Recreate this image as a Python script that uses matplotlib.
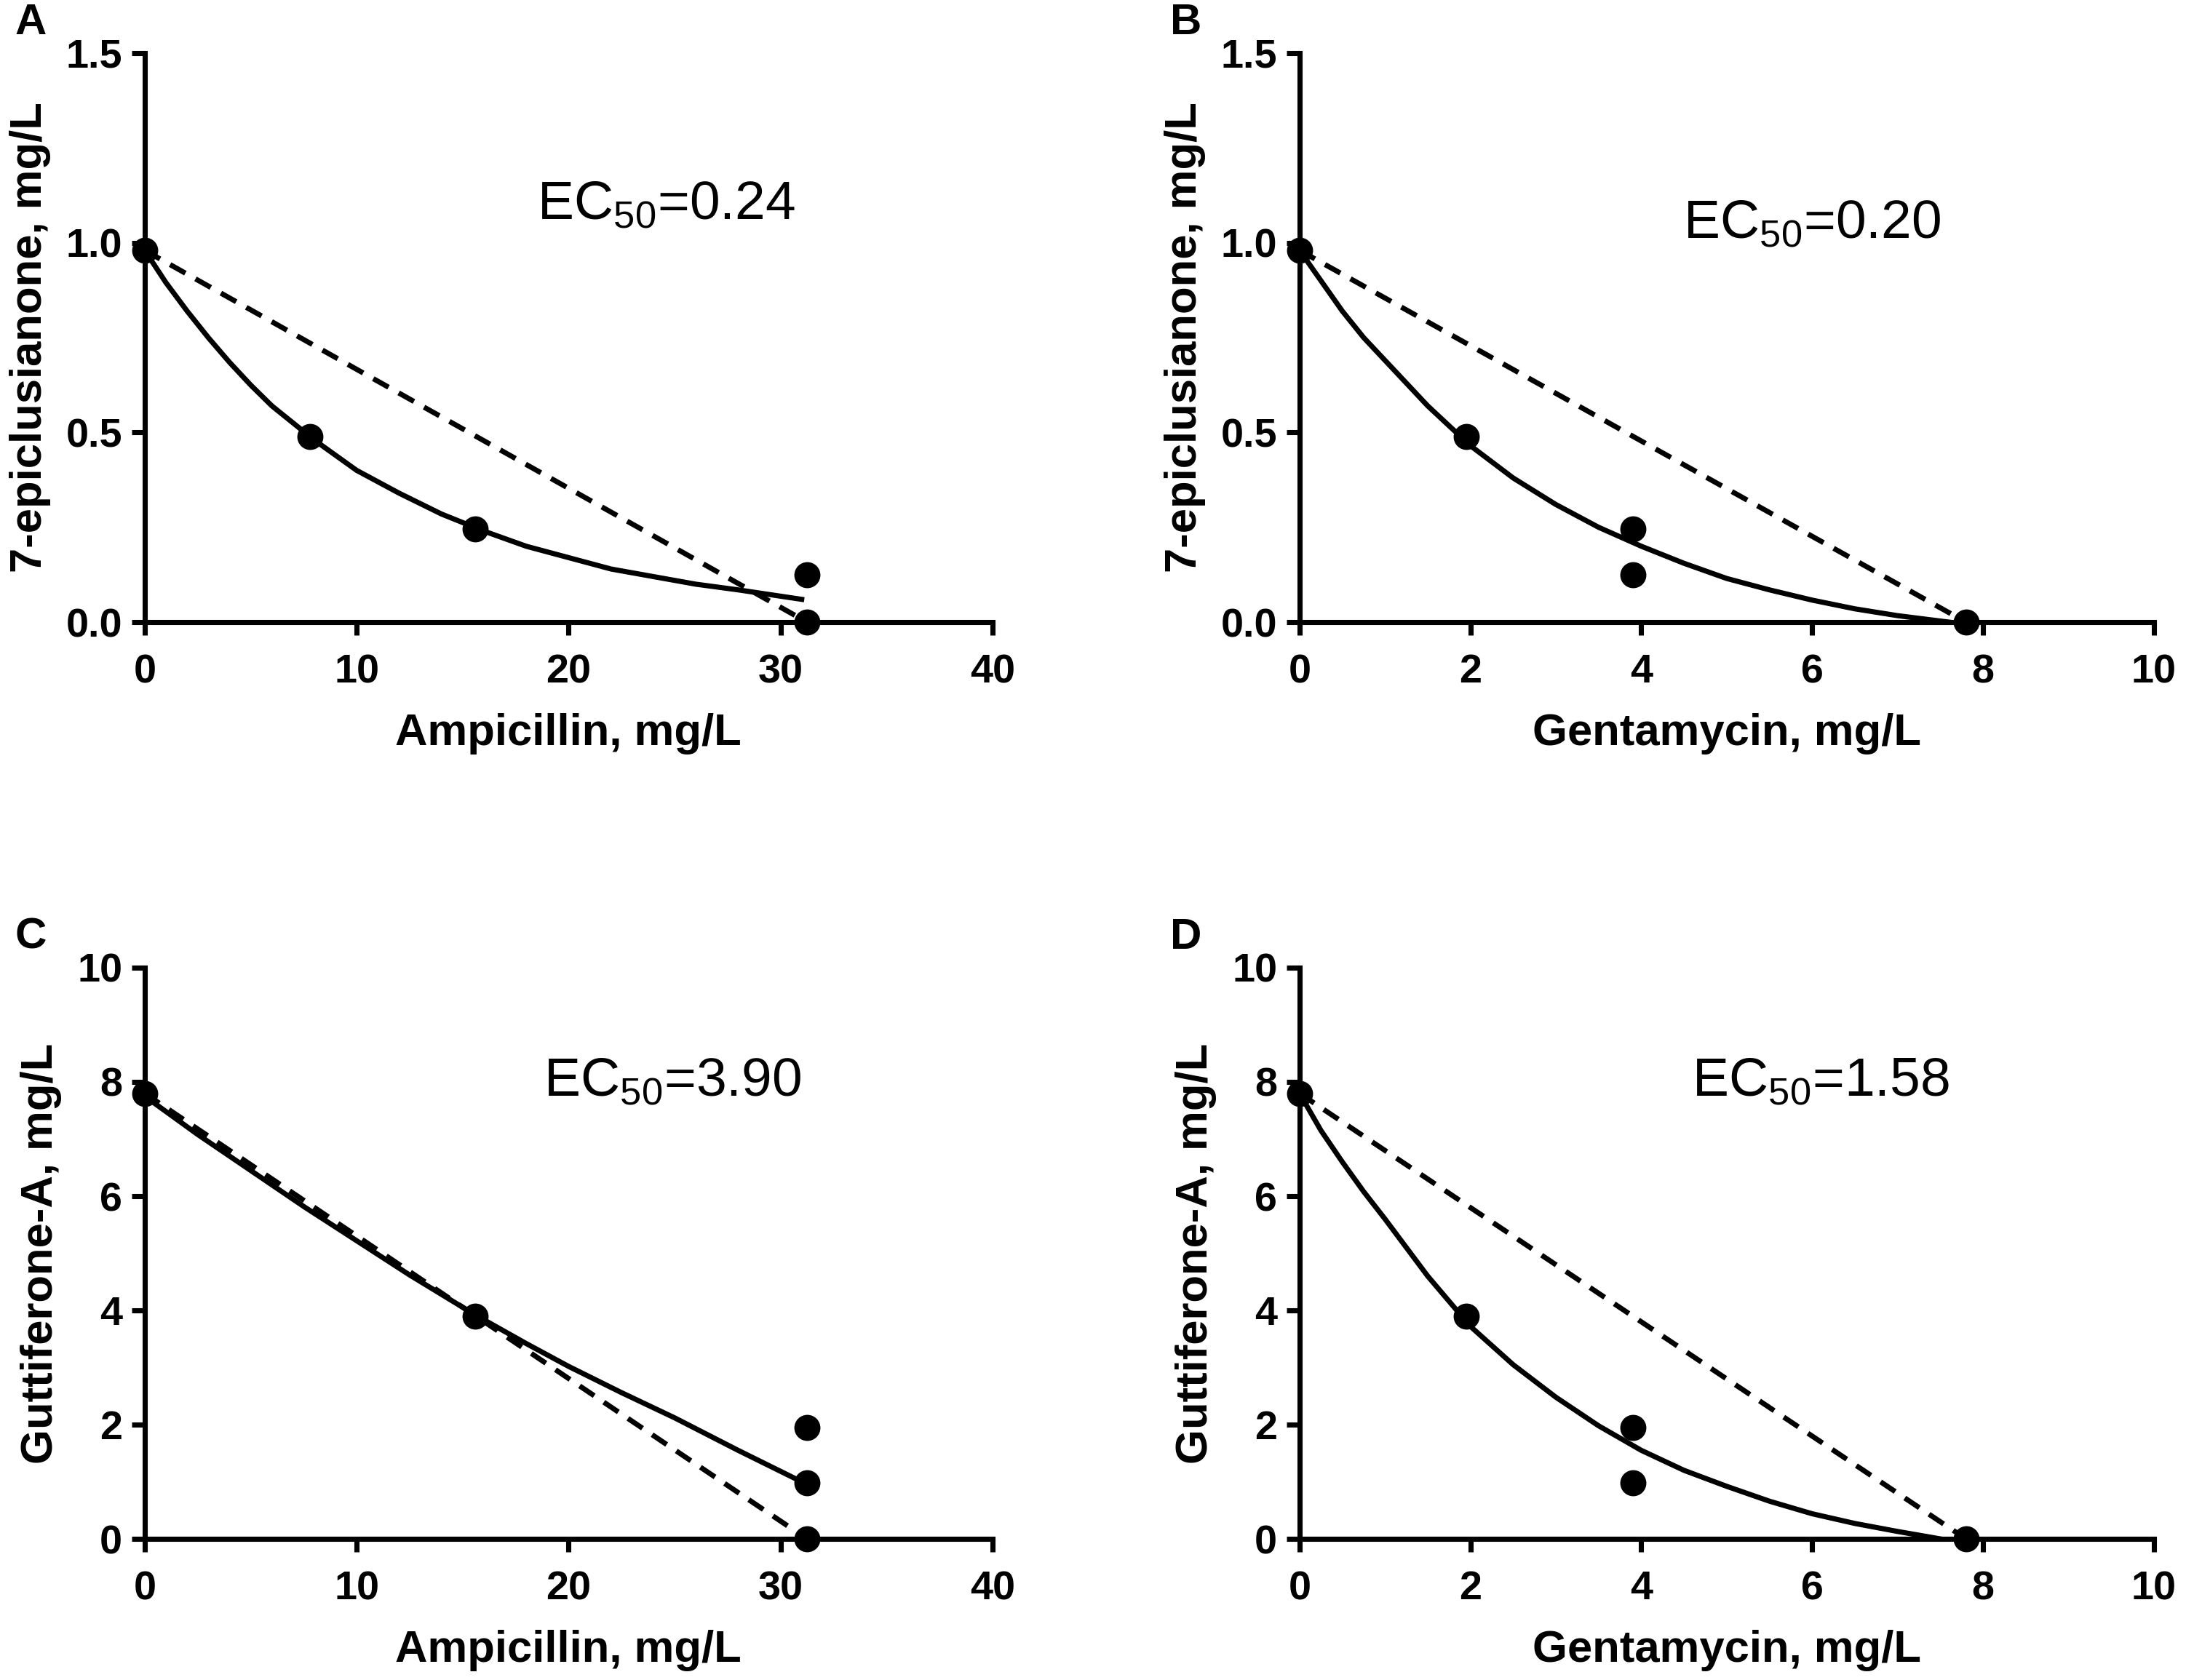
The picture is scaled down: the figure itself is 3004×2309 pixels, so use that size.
import matplotlib
matplotlib.use("Agg")
import matplotlib.pyplot as plt

plt.rcParams['font.family'] = ['Liberation Sans', 'DejaVu Sans']
plt.rcParams['mathtext.fontset'] = 'custom'
plt.rcParams['mathtext.rm'] = 'Liberation Sans'

# ---- data ----
# A: ampicillin vs 7-epiclusianone
a_pts_x = [0, 7.8, 15.6, 31.25, 31.25]
a_pts_y = [0.98, 0.49, 0.245, 0.125, 0.0]
a_fit_x = [0, 1, 2, 3, 4, 5, 6, 7, 8, 9, 10, 12, 14, 16, 18, 20, 22, 24, 26, 28, 31]
a_fit_y = [0.98, 0.895, 0.82, 0.75, 0.685, 0.625, 0.57, 0.525, 0.48, 0.44, 0.40, 0.34,
           0.285, 0.24, 0.20, 0.17, 0.14, 0.12, 0.10, 0.085, 0.06]
a_add_x = [0, 31.25]
a_add_y = [0.98, 0.0]

# B: gentamycin vs 7-epiclusianone
b_pts_x = [0, 1.95, 3.9, 3.9, 7.8]
b_pts_y = [0.98, 0.49, 0.245, 0.125, 0.0]
b_fit_x = [0, 0.25, 0.5, 0.75, 1, 1.5, 2, 2.5, 3, 3.5, 4, 4.5, 5, 5.5, 6, 6.5, 7, 7.6]
b_fit_y = [0.98, 0.90, 0.82, 0.75, 0.69, 0.57, 0.465, 0.38, 0.31, 0.25, 0.20, 0.155,
           0.115, 0.085, 0.058, 0.035, 0.017, 0.0]
b_add_x = [0, 7.8]
b_add_y = [0.98, 0.0]

# C: ampicillin vs guttiferone-A
c_pts_x = [0, 15.6, 31.25, 31.25, 31.25]
c_pts_y = [7.8, 3.9, 1.95, 0.98, 0.0]
c_fit_x = [0, 2.5, 5, 7.5, 10, 12.5, 15.6, 18, 20, 22.5, 25, 28, 31]
c_fit_y = [7.75, 7.08, 6.45, 5.82, 5.22, 4.62, 3.92, 3.42, 3.02, 2.56, 2.12, 1.55, 1.0]
c_add_x = [0, 31.25]
c_add_y = [7.8, 0.0]

# D: gentamycin vs guttiferone-A
d_pts_x = [0, 1.95, 3.9, 3.9, 7.8]
d_pts_y = [7.8, 3.9, 1.95, 0.98, 0.0]
d_fit_x = [0, 0.25, 0.5, 0.75, 1, 1.5, 2, 2.5, 3, 3.5, 4, 4.5, 5, 5.5, 6, 6.5, 7, 7.5]
d_fit_y = [7.8, 7.15, 6.6, 6.08, 5.6, 4.6, 3.72, 3.05, 2.48, 1.98, 1.55, 1.2, 0.92,
           0.66, 0.44, 0.27, 0.13, 0.0]
d_add_x = [0, 7.8]
d_add_y = [7.8, 0.0]

ec50 = ["0.24", "0.20", "3.90", "1.58"]
letters = ["A", "B", "C", "D"]
xlabels = ["Ampicillin, mg/L", "Gentamycin, mg/L", "Ampicillin, mg/L", "Gentamycin, mg/L"]
ylabels = ["7-epiclusianone, mg/L", "7-epiclusianone, mg/L", "Guttiferone-A, mg/L", "Guttiferone-A, mg/L"]

fig = plt.figure(figsize=(3004 / 300, 2309 / 300), dpi=300)
boxes = [[0.0662, 0.6297, 0.3878, 0.3387],
         [0.5945, 0.6297, 0.3908, 0.3387],
         [0.0662, 0.0840, 0.3878, 0.3400],
         [0.5945, 0.0840, 0.3908, 0.3400]]

panels = [
    (a_pts_x, a_pts_y, a_fit_x, a_fit_y, a_add_x, a_add_y, 40, 10, 1.5, 0.5, (24.6, 1.10)),
    (b_pts_x, b_pts_y, b_fit_x, b_fit_y, b_add_x, b_add_y, 10, 2, 1.5, 0.5, (6.0, 1.05)),
    (c_pts_x, c_pts_y, c_fit_x, c_fit_y, c_add_x, c_add_y, 40, 10, 10, 2, (24.9, 8.0)),
    (d_pts_x, d_pts_y, d_fit_x, d_fit_y, d_add_x, d_add_y, 10, 2, 10, 2, (6.1, 8.0)),
]

lw = 1.7
for i, (px, py, fx, fy, ax_, ay_, xmax, xstep, ymax, ystep, txt) in enumerate(panels):
    ax = fig.add_axes(boxes[i])
    ax.plot(fx, fy, color='black', lw=lw, solid_joinstyle='round', clip_on=False)
    ax.plot(ax_, ay_, color='black', lw=lw, dashes=(3.4, 2.25), clip_on=False)
    ax.plot(px, py, 'o', color='black', ms=7.6, clip_on=False, zorder=5)

    ax.set_xlim(0, xmax)
    ax.set_ylim(0, ymax)
    ax.set_xticks([xstep * k for k in range(int(round(xmax / xstep)) + 1)])
    yt = [ystep * k for k in range(int(round(ymax / ystep)) + 1)]
    ax.set_yticks(yt)
    if ymax < 5:
        ax.set_yticklabels(["%.1f" % v for v in yt])
    else:
        ax.set_yticklabels(["%d" % v for v in yt])

    for s in ['top', 'right']:
        ax.spines[s].set_visible(False)
    for s in ['left', 'bottom']:
        ax.spines[s].set_linewidth(lw)
    ax.tick_params(direction='out', length=4.4, width=lw, pad=3, labelsize=13.4)
    ax.tick_params(axis='x', pad=6)
    for lab in ax.get_xticklabels() + ax.get_yticklabels():
        lab.set_fontweight('bold')

    ax.set_xlabel(xlabels[i], fontsize=14.8, fontweight='bold', labelpad=7)
    ax.set_ylabel(ylabels[i], fontsize=14.8, fontweight='bold', labelpad=5)

    ax.text(txt[0], txt[1], "EC$_{\\mathrm{50}}$=" + ec50[i], fontsize=18,
            ha='center', va='center')

    fig.text(boxes[i][0] - 0.052, boxes[i][1] + boxes[i][3] + 0.018, letters[i],
             fontsize=14.4, fontweight='bold', ha='center', va='center')

fig.savefig("out.png", dpi=300, facecolor='white')
